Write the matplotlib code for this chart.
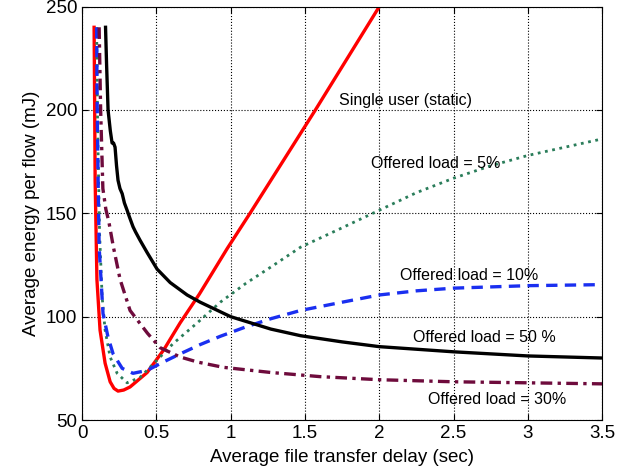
import numpy as np
import matplotlib.pyplot as plt

plt.rcParams['font.family'] = ['Liberation Sans', 'DejaVu Sans']

# single user (static)
x_single = [0.081, 0.085, 0.088, 0.10, 0.121, 0.155, 0.189, 0.215, 0.242, 0.28, 0.323, 0.438, 0.55,
            0.66, 0.79, 0.977, 1.13, 1.57, 2.0]
y_single = [240, 200, 166, 118, 93.5, 77.5, 68.5, 65.3, 64, 64.5, 66, 73, 84,
            97, 111, 133, 150, 200, 250]

# offered load = 5%
x_5 = [0.098, 0.105, 0.118, 0.135, 0.155, 0.189, 0.236, 0.303, 0.39, 0.505, 0.613, 0.775,
       0.93, 1.1, 1.27, 1.47, 1.75, 2.0, 2.25, 2.5, 2.75, 3.0, 3.25, 3.5]
y_5 = [240, 190, 140, 109.6, 93.5, 80.5, 72.6, 68, 70.6, 79, 87, 97,
       107, 116, 124, 133.6, 143, 151.5, 160, 167, 173, 178, 182, 186]

# offered load = 10%
x_10 = [0.098, 0.102, 0.108, 0.115, 0.128, 0.141, 0.175, 0.209, 0.27, 0.343, 0.438, 0.545,
        0.66, 0.795, 0.93, 1.1, 1.27, 1.47, 1.75, 2.0, 2.25, 2.5, 3.0, 3.5]
y_10 = [240, 200, 166, 133.6, 117.6, 101.5, 90, 82, 75, 72.6, 74, 78,
        82, 86.5, 90.5, 95, 99, 103, 107, 110.5, 112.5, 113.8, 115, 115.5]

# offered load = 30%
x_30 = [0.115, 0.125, 0.14, 0.16, 0.18, 0.21, 0.256, 0.323, 0.44, 0.525, 0.66, 0.78,
        0.95, 1.27, 1.6, 2.0, 2.5, 3.0, 3.5]
y_30 = [240, 200, 162, 152, 146, 134, 118, 103, 92, 85, 80.5, 78,
        75.5, 73, 71, 69.5, 68.5, 68, 67.5]

# offered load = 50%
x_50 = [0.158, 0.165, 0.175, 0.19, 0.202, 0.212, 0.222, 0.232, 0.242, 0.255, 0.27, 0.285,
        0.303, 0.32, 0.343, 0.36, 0.39, 0.438, 0.505, 0.593, 0.707, 0.795, 1.0, 1.27,
        1.47, 1.75, 2.0, 2.5, 3.0, 3.5]
y_50 = [240, 222, 200, 190, 184, 184, 182, 173, 166, 162, 159.5, 155,
        151.5, 148, 143.5, 141, 137, 131, 123, 116.5, 110.5, 107, 100, 94,
        90.8, 87.8, 85.5, 83, 81, 80]

fig = plt.figure(figsize=(6.17, 4.73), dpi=100)
ax = fig.add_axes([0.133, 0.112, 0.843, 0.874])

ax.plot(x_single, y_single, color='#ff0000', lw=2.4)
ax.plot(x_5, y_5, color='#2a7d5a', lw=2.0, ls=':')
ax.plot(x_10, y_10, color='#1a2ff0', lw=2.4, ls=(0, (3.4, 2.2)))
ax.plot(x_30, y_30, color='#6e0b3c', lw=2.4, ls=(0, (3.5, 1.6, 1.0, 1.6)))
ax.plot(x_50, y_50, color='black', lw=2.4)

ax.text(1.726, 202.4, 'Single user (static)', fontsize=11.5)
ax.text(1.944, 171.8, 'Offered load = 5%', fontsize=11.5)
ax.text(2.14, 117.8, 'Offered load = 10%', fontsize=11.5)
ax.text(2.23, 87.9, 'Offered load = 50 %', fontsize=11.5)
ax.text(2.33, 57.6, 'Offered load = 30%', fontsize=11.5)

ax.set_xlim(0, 3.5)
ax.set_ylim(50, 250)
ax.set_xticks([0, 0.5, 1, 1.5, 2, 2.5, 3, 3.5])
ax.set_xticklabels(['0', '0.5', '1', '1.5', '2', '2.5', '3', '3.5'])
ax.set_yticks([50, 100, 150, 200, 250])
ax.tick_params(direction='in', labelsize=13.5, top=True, right=True, length=4)
ax.grid(True, ls=':', color='black', lw=0.8)
ax.set_xlabel('Average file transfer delay (sec)', fontsize=13.5, labelpad=5)
ax.set_ylabel('Average energy per flow (mJ)', fontsize=13.5)

fig.savefig('out.png', dpi=100)
